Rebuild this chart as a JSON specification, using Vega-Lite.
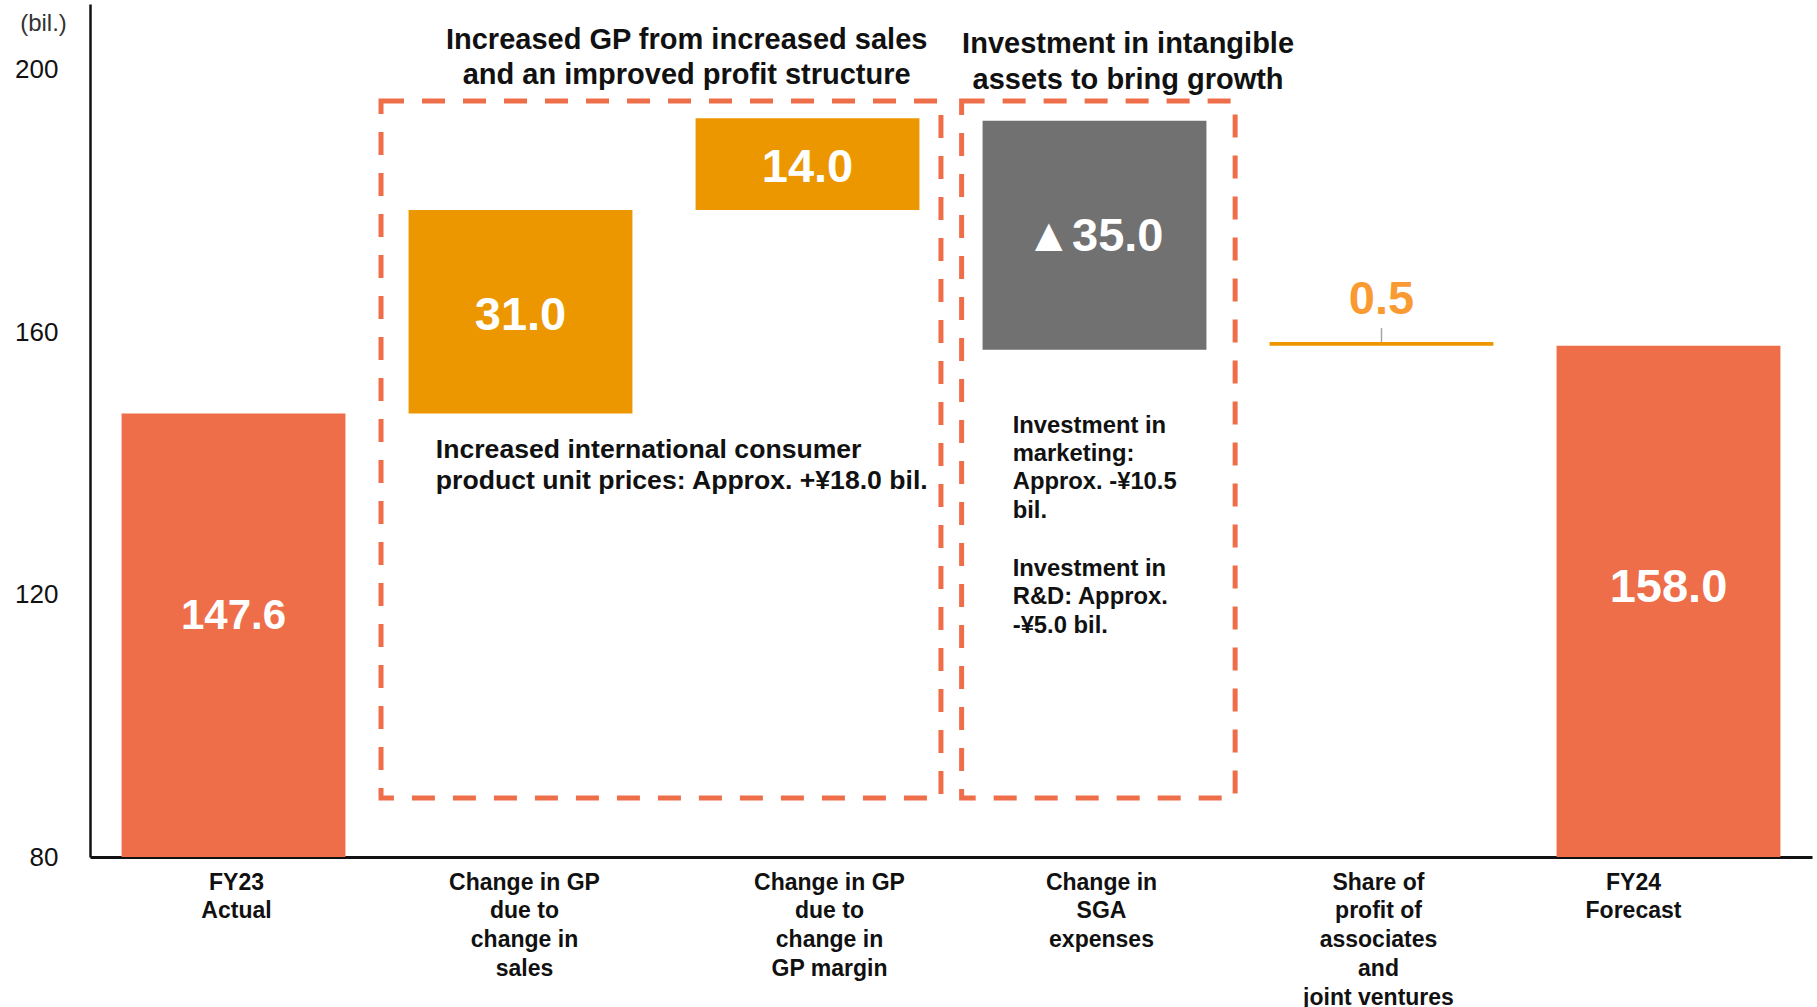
{
  "$schema": "https://vega.github.io/schema/vega-lite/v6.json",
  "width": 1722,
  "height": 853,
  "autosize": {"type": "none"},
  "padding": {"left": 90, "top": 4, "right": 5, "bottom": 150},
  "background": "white",
  "config": {"view": {"stroke": null}, "font": "Liberation Sans", "text": {"font": "Liberation Sans"}},
  "datasets": {
    "bars": [
      {"cat": "FY23|Actual", "start": 0, "end": 147.6, "kind": "total", "label": "147.6"},
      {"cat": "Change in GP|due to|change in|sales", "start": 147.6, "end": 178.6, "kind": "up", "label": "31.0"},
      {"cat": "Change in GP|due to|change in|GP margin", "start": 178.6, "end": 192.6, "kind": "up", "label": "14.0"},
      {"cat": "Change in|SGA|expenses", "start": 192.2, "end": 157.3, "kind": "down", "label": "▲35.0"},
      {"cat": "Share of|profit of|associates|and|joint ventures", "start": 157.9, "end": 158.5, "kind": "up", "label": "0.5"},
      {"cat": "FY24|Forecast", "start": 0, "end": 157.9, "kind": "total", "label": "158.0"}
    ],
    "connector": [
      {"cat": "Share of|profit of|associates|and|joint ventures", "lo": 158.5, "hi": 160.6}
    ],
    "boxes": [
      {"x1": 1.014, "x2": 2.965, "y1": 88.99, "y2": 195.22},
      {"x1": 3.037, "x2": 3.99, "y1": 88.99, "y2": 195.22}
    ],
    "notes": [
      {"group": "title", "text": "Increased GP from increased sales", "x": 2.079, "y": 204.47},
      {"group": "title", "text": "and an improved profit structure", "x": 2.079, "y": 199.13},
      {"group": "title", "text": "Investment in intangible", "x": 3.617, "y": 203.88},
      {"group": "title", "text": "assets to bring growth", "x": 3.617, "y": 198.37},
      {"group": "gp", "text": "Increased international consumer", "x": 1.205, "y": 142.03},
      {"group": "gp", "text": "product unit prices: Approx. +¥18.0 bil.", "x": 1.205, "y": 137.30},
      {"group": "sga", "text": "Investment in", "x": 3.215, "y": 145.72},
      {"group": "sga", "text": "marketing:", "x": 3.215, "y": 141.40},
      {"group": "sga", "text": "Approx. -¥10.5", "x": 3.215, "y": 137.09},
      {"group": "sga", "text": "bil.", "x": 3.215, "y": 132.78},
      {"group": "sga", "text": "Investment in", "x": 3.215, "y": 123.89},
      {"group": "sga", "text": "R&D: Approx.", "x": 3.215, "y": 119.58},
      {"group": "sga", "text": "-¥5.0 bil.", "x": 3.215, "y": 115.27}
    ]
  },
  "layer": [
    {
      "layer": [
        {
          "data": {"name": "bars"},
          "mark": {"type": "bar", "clip": true},
          "encoding": {
            "x": {
              "field": "cat", "type": "nominal", "title": null,
              "scale": {"domain": ["FY23|Actual", "Change in GP|due to|change in|sales", "Change in GP|due to|change in|GP margin", "Change in|SGA|expenses", "Share of|profit of|associates|and|joint ventures", "FY24|Forecast"], "paddingInner": 0.22, "paddingOuter": 0.11},
              "axis": {
                "labelExpr": "split(datum.label, '|')",
                "ticks": false,
                "labelPadding": 14,
                "labelFontSize": 23,
                "labelFontWeight": "bold",
                "labelFont": "Liberation Sans",
                "labelColor": "#111111",
                "labelLineHeight": 28.9,
                "labelLimit": 0,
                "labelAngle": 0,
                "labelBaseline": "top",
                "labelOverlap": false,
                "domainColor": "#111111",
                "domainWidth": 3,
                "labelOffset": {
                  "condition": [
                    {"test": "datum.value === 'FY23|Actual'", "value": 3},
                    {"test": "datum.value === 'Change in GP|due to|change in|sales'", "value": 4},
                    {"test": "datum.value === 'Change in GP|due to|change in|GP margin'", "value": 22},
                    {"test": "datum.value === 'Change in|SGA|expenses'", "value": 7},
                    {"test": "datum.value === 'Share of|profit of|associates|and|joint ventures'", "value": -3},
                    {"test": "datum.value === 'FY24|Forecast'", "value": -35}
                  ],
                  "value": 0
                }
              }
            },
            "y": {
              "field": "end", "type": "quantitative", "title": "(bil.)",
              "scale": {"domain": [80, 210], "nice": false, "zero": false},
              "axis": {
                "values": [80, 120, 160, 200],
                "ticks": false,
                "grid": false,
                "labelPadding": 32,
                "labelFontSize": 26,
                "labelFont": "Liberation Sans",
                "labelColor": "#111111",
                "labelFlush": false,
                "labelOverlap": false,
                "domainColor": "#111111",
                "domainWidth": 2.5,
                "titleAngle": 0,
                "titleX": -47,
                "titleY": 19,
                "titleAlign": "center",
                "titleBaseline": "middle",
                "titleFontSize": 24,
                "titleFontWeight": "normal",
                "titleFont": "Liberation Sans",
                "titleColor": "#333333"
              }
            },
            "y2": {"field": "start"},
            "color": {
              "field": "kind", "type": "nominal", "legend": null,
              "scale": {"domain": ["total", "up", "down"], "range": ["#EE6E4A", "#EC9700", "#717171"]}
            }
          }
        },
        {
          "data": {"name": "connector"},
          "mark": {"type": "rule", "color": "#A6A6A6", "strokeWidth": 1.5},
          "encoding": {
            "x": {"field": "cat", "type": "nominal", "title": null},
            "y": {"field": "lo", "type": "quantitative", "title": "(bil.)"},
            "y2": {"field": "hi"}
          }
        },
        {
          "data": {"name": "bars"},
          "transform": [
            {"calculate": "(max(datum.start, 80) + datum.end) / 2", "as": "mid"},
            {"filter": "datum.kind === 'up' && abs(datum.end - datum.start) >= 2"}
          ],
          "mark": {"type": "text", "color": "white", "fontWeight": "bold", "fontSize": 47, "baseline": "middle", "align": "center", "dy": 4},
          "encoding": {
            "x": {"field": "cat", "type": "nominal", "title": null},
            "y": {"field": "mid", "type": "quantitative", "title": "(bil.)"},
            "text": {"field": "label"}
          }
        },
        {
          "data": {"name": "bars"},
          "transform": [
            {"calculate": "(max(datum.start, 80) + datum.end) / 2", "as": "mid"},
            {"filter": "datum.kind === 'down'"}
          ],
          "mark": {"type": "text", "color": "white", "fontWeight": "bold", "fontSize": 47, "baseline": "middle", "align": "center", "dy": 1.5},
          "encoding": {
            "x": {"field": "cat", "type": "nominal", "title": null},
            "y": {"field": "mid", "type": "quantitative", "title": "(bil.)"},
            "text": {"field": "label"}
          }
        },
        {
          "data": {"name": "bars"},
          "transform": [
            {"calculate": "(max(datum.start, 80) + datum.end) / 2", "as": "mid"},
            {"filter": "datum.cat === 'FY23|Actual'"}
          ],
          "mark": {"type": "text", "color": "white", "fontWeight": "bold", "fontSize": 42, "baseline": "middle", "align": "center", "dy": -19},
          "encoding": {
            "x": {"field": "cat", "type": "nominal", "title": null},
            "y": {"field": "mid", "type": "quantitative", "title": "(bil.)"},
            "text": {"field": "label"}
          }
        },
        {
          "data": {"name": "bars"},
          "transform": [
            {"calculate": "(max(datum.start, 80) + datum.end) / 2", "as": "mid"},
            {"filter": "datum.cat === 'FY24|Forecast'"}
          ],
          "mark": {"type": "text", "color": "white", "fontWeight": "bold", "fontSize": 47, "baseline": "middle", "align": "center", "dy": -13},
          "encoding": {
            "x": {"field": "cat", "type": "nominal", "title": null},
            "y": {"field": "mid", "type": "quantitative", "title": "(bil.)"},
            "text": {"field": "label"}
          }
        },
        {
          "data": {"name": "bars"},
          "transform": [
            {"filter": "abs(datum.end - datum.start) < 2"}
          ],
          "mark": {"type": "text", "color": "#F99B32", "fontWeight": "bold", "fontSize": 47, "baseline": "alphabetic", "align": "center", "dy": -28},
          "encoding": {
            "x": {"field": "cat", "type": "nominal", "title": null},
            "y": {"field": "end", "type": "quantitative", "title": "(bil.)"},
            "text": {"field": "label"}
          }
        }
      ]
    },
    {
      "layer": [
        {
          "data": {"name": "boxes"},
          "mark": {"type": "rect", "fill": "transparent", "stroke": "#EE6E4A", "strokeWidth": 5, "strokeDash": [23, 18]},
          "encoding": {
            "x": {"field": "x1", "type": "quantitative", "scale": {"domain": [0, 6], "nice": false, "zero": false}, "axis": null},
            "x2": {"field": "x2"},
            "y": {"field": "y1", "type": "quantitative", "title": "(bil.)", "scale": {"domain": [80, 210], "nice": false, "zero": false}},
            "y2": {"field": "y2"}
          }
        },
        {
          "data": {"name": "notes"},
          "transform": [{"filter": "datum.group === 'title'"}],
          "mark": {"type": "text", "align": "center", "baseline": "middle", "fontSize": 29, "fontWeight": "bold", "color": "#111111"},
          "encoding": {
            "x": {"field": "x", "type": "quantitative", "scale": {"domain": [0, 6], "nice": false, "zero": false}, "axis": null},
            "y": {"field": "y", "type": "quantitative", "title": "(bil.)"},
            "text": {"field": "text"}
          }
        },
        {
          "data": {"name": "notes"},
          "transform": [{"filter": "datum.group === 'gp'"}],
          "mark": {"type": "text", "align": "left", "baseline": "middle", "fontSize": 26.6, "fontWeight": "bold", "color": "#111111"},
          "encoding": {
            "x": {"field": "x", "type": "quantitative", "scale": {"domain": [0, 6], "nice": false, "zero": false}, "axis": null},
            "y": {"field": "y", "type": "quantitative", "title": "(bil.)"},
            "text": {"field": "text"}
          }
        },
        {
          "data": {"name": "notes"},
          "transform": [{"filter": "datum.group === 'sga'"}],
          "mark": {"type": "text", "align": "left", "baseline": "middle", "fontSize": 23.8, "fontWeight": "bold", "color": "#111111"},
          "encoding": {
            "x": {"field": "x", "type": "quantitative", "scale": {"domain": [0, 6], "nice": false, "zero": false}, "axis": null},
            "y": {"field": "y", "type": "quantitative", "title": "(bil.)"},
            "text": {"field": "text"}
          }
        }
      ]
    }
  ],
  "resolve": {"scale": {"x": "independent"}}
}
